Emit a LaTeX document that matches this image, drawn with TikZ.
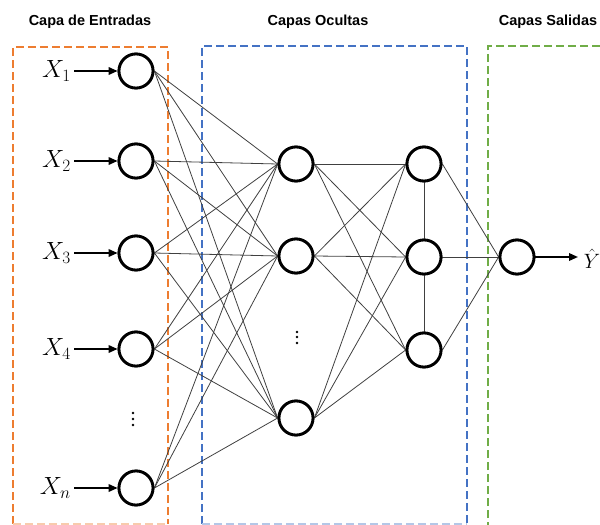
\documentclass[tikz,border=0pt]{standalone}
\usepackage{fontspec}
\setmainfont{Liberation Sans}
\usetikzlibrary{arrows.meta}
\begin{document}
\begin{tikzpicture}[x=1pt,y=-1pt,
  neuron/.style={circle,draw=black,line width=2.8pt,minimum size=34pt,inner sep=0pt,fill=white},
  link/.style={draw=black!75,line width=0.8pt},
  feed/.style={line width=1.8pt,-{Triangle[length=9pt,width=7.5pt]}},
  layerbox/.style={line width=1.8pt,dash pattern=on 8pt off 4pt},
  title/.style={font=\bfseries\fontsize{14.5}{16}\selectfont},
  varlabel/.style={anchor=east,inner sep=3pt,font=\fontsize{24}{26}\selectfont},
  vdot/.style={circle,fill=black,inner sep=0pt,minimum size=2.6pt}]
\useasboundingbox (0,0) rectangle (600,525);
\clip (0,0) rectangle (600,525);
\definecolor{boxorange}{HTML}{ED7D31}
\definecolor{boxblue}{HTML}{4472C4}
\definecolor{boxgreen}{HTML}{70AD47}

% layer frames
\draw[layerbox,boxorange] (13,524) -- (13,47) -- (168,47) -- (168,524);
\draw[layerbox,boxorange!40] (13,524) -- (168,524);
\draw[layerbox,boxblue] (202,524) -- (202,46) -- (467,46) -- (467,524);
\draw[layerbox,boxblue!40] (202,524) -- (467,524);
\draw[layerbox,boxgreen] (488,530) -- (488,46) -- (610,46);

% titles
\node[title] (t1) at (90,22) {Capa de Entradas};
\node[title] (t2) at (318,22) {Capas Ocultas};
\node[title] (t3) at (548,22) {Capas Salidas};

% input layer
\foreach \n/\y in {1/71,2/161,3/253,4/349,n/488}{
  \node[neuron] (i\n) at (136,\y) {};
  \node[varlabel] (x\n) at (74,\y) {$X_{\n}$};
  \draw[feed] (x\n.east) -- (i\n.west);
}
% first hidden layer
\foreach \k/\y in {1/164,2/256,3/418}{
  \node[neuron] (h\k) at (296,\y) {};
}
% second hidden layer
\foreach \k/\y in {1/164,2/257,3/350}{
  \node[neuron] (g\k) at (424,\y) {};
}
% output
\node[neuron] (o) at (517,257) {};
\coordinate (oend) at (578,257);
\node[inner sep=0pt,font=\fontsize{21}{23}\selectfont] (yhat) at (592,259) {$\hat{Y}$};

% connections
\foreach \n in {1,2,3,4,n}{
  \foreach \k in {1,2,3}{
    \draw[link] (i\n.east) -- (h\k.west);
  }
}
\foreach \a in {1,2,3}{
  \foreach \b in {1,2,3}{
    \draw[link] (h\a.east) -- (g\b.west);
  }
  \draw[link] (g\a.east) -- (o.west);
}
\draw[link] (g1.south) -- (g2.north);
\draw[link] (g2.south) -- (g3.north);
\draw[feed] (o.east) -- (oend);

% redraw neurons above links
\foreach \n in {i1,i2,i3,i4,in,h1,h2,h3,g1,g2,g3,o}{
  \draw[line width=2.8pt,fill=white] (\n.center) circle (17pt);
}

% vertical ellipses
\node[vdot] (d1) at (133,413) {};
\node[vdot] (d2) at (133,419) {};
\node[vdot] (d3) at (133,425) {};
\node[vdot] (e1) at (297,332) {};
\node[vdot] (e2) at (297,337) {};
\node[vdot] (e3) at (297,343) {};
\end{tikzpicture}
\end{document}
